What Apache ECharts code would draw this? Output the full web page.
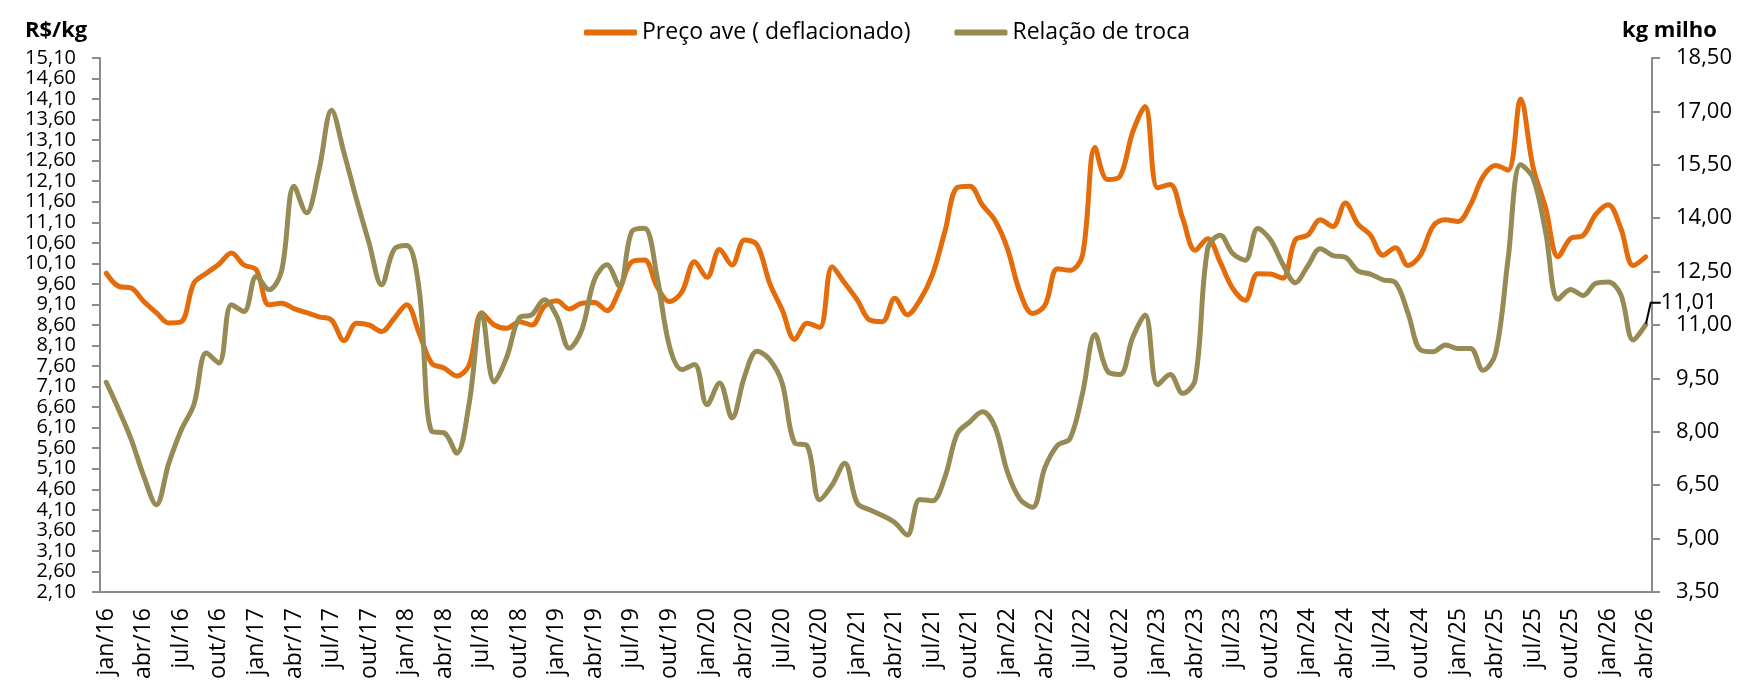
<!DOCTYPE html>
<html>
<head>
<meta charset="utf-8">
<title>Preço ave x Relação de troca</title>
<script src="https://cdn.jsdelivr.net/npm/echarts@6/dist/echarts.min.js"></script>
<style>
  html, body { margin: 0; padding: 0; background: #fff; }
  #chart { width: 1741px; height: 683px; }
</style>
</head>
<body>
<div id="chart"></div>
<script>
var monthNames = ['jan', 'fev', 'mar', 'abr', 'mai', 'jun', 'jul', 'ago', 'set', 'out', 'nov', 'dez'];
var firstYear = 16;
var lastYear = 26;
var lastMonth = 3; // abr/26

// R$/kg (eixo esquerdo)
var precoAve = [
  9.86, 9.54, 9.50, 9.17, 8.90, 8.65, 8.68, 9.62, 9.86, 10.08, 10.35, 10.06,
  9.94, 9.09, 9.13, 9.00, 8.90, 8.80, 8.72, 8.22, 8.64, 8.60, 8.44, 8.76,
  9.09, 8.40, 7.67, 7.55, 7.36, 7.63, 8.89, 8.60, 8.52, 8.68, 8.60, 9.05,
  9.19, 8.99, 9.13, 9.15, 8.95, 9.45, 10.14, 10.18, 9.54, 9.17, 9.41, 10.14,
  9.76, 10.44, 10.06, 10.67, 10.55, 9.62, 8.97, 8.25, 8.64, 8.54, 10.02, 9.62,
  9.21, 8.72, 8.68, 9.25, 8.85, 9.20, 9.82, 10.87, 11.95, 11.98, 11.52, 11.15,
  10.46, 9.40, 8.88, 9.08, 9.97, 9.93, 10.30, 12.92, 12.14, 12.22, 13.29, 13.92,
  11.94, 12.02, 11.20, 10.42, 10.70, 10.13, 9.49, 9.20, 9.85, 9.84, 9.74, 10.67,
  10.79, 11.16, 11.00, 11.57, 11.06, 10.79, 10.30, 10.48, 10.05, 10.30, 11.00, 11.16,
  11.12, 11.53, 12.21, 12.48, 12.37, 14.10, 12.44, 11.45, 10.26, 10.71, 10.78, 11.29,
  11.53, 10.96, 10.05, 10.26
];

// kg milho (eixo direito)
var relacaoTroca = [
  9.39, 8.62, 7.78, 6.75, 5.95, 7.12, 8.06, 8.76, 10.21, 9.93, 11.57, 11.38,
  12.37, 11.99, 12.51, 14.90, 14.15, 15.36, 17.03, 15.83, 14.52, 13.30, 12.13, 13.12,
  13.23, 11.99, 8.01, 7.97, 7.40, 8.81, 11.34, 9.40, 10.10, 11.20, 11.29, 11.71,
  11.24, 10.35, 10.87, 12.27, 12.69, 12.09, 13.63, 13.72, 12.37, 10.40, 9.75, 9.89,
  8.76, 9.37, 8.39, 9.56, 10.26, 10.03, 9.37, 7.69, 7.61, 6.09, 6.51, 7.12,
  6.00, 5.81, 5.65, 5.45, 5.10, 6.10, 6.06, 6.72, 7.95, 8.28, 8.56, 8.14,
  6.87, 6.11, 5.88, 7.00, 7.62, 7.81, 9.08, 10.73, 9.70, 9.61, 10.64, 11.28,
  9.32, 9.61, 9.08, 9.46, 13.15, 13.52, 13.01, 12.82, 13.71, 13.40, 12.71, 12.19,
  12.66, 13.14, 12.95, 12.90, 12.52, 12.43, 12.27, 12.19, 11.34, 10.30, 10.25, 10.44,
  10.34, 10.34, 9.73, 10.20, 12.85, 15.50, 15.13, 13.61, 11.72, 12.00, 11.83, 12.17,
  12.21, 11.86, 10.58, 11.01
];

var categories = [];
for (var y = firstYear; y <= lastYear; y++) {
  for (var m = 0; m < 12; m++) {
    if (y === lastYear && m > lastMonth) break;
    categories.push(monthNames[m] + '/' + y);
  }
}

function fmt(v) {
  return (Math.round(v * 100) / 100).toFixed(2).replace('.', ',');
}

var axisGray = '#8c8c8c';
var olive = '#968b55';
var orange = '#e46c0a';
var font = "'Open Sans', 'Noto Sans', sans-serif";

// só o último ponto tem símbolo, para levar o rótulo com linha guia
var relacaoData = relacaoTroca.map(function (v, i) {
  if (i !== relacaoTroca.length - 1) return v;
  return {
    value: v,
    symbol: 'circle',
    symbolSize: 2,
    itemStyle: { color: olive },
    label: {
      show: true,
      position: 'right',
      distance: 4,
      formatter: function (p) { return fmt(p.value); },
      color: '#000',
      fontFamily: font,
      fontSize: 22
    },
    labelLine: {
      show: true,
      length2: 10,
      lineStyle: { color: '#000', width: 2 }
    }
  };
});

var chart = echarts.init(document.getElementById('chart'));
chart.setOption({
  animation: false,
  backgroundColor: '#fff',
  textStyle: { fontFamily: font },
  title: [
    { text: 'R$/kg', left: 20, top: 15, textStyle: { fontFamily: font, fontSize: 22, fontWeight: 'bold', color: '#000' } },
    { text: 'kg milho', left: 1617, top: 15, textStyle: { fontFamily: font, fontSize: 22, fontWeight: 'bold', color: '#000' } }
  ],
  legend: {
    left: 579,
    top: 16,
    itemWidth: 53,
    itemHeight: 6,
    itemGap: 44,
    icon: 'roundRect',
    textStyle: { fontFamily: font, fontSize: 23, color: '#000' },
    data: ['Preço ave ( deflacionado)', 'Relação de troca']
  },
  grid: { left: 100, right: 89, top: 58, bottom: 91 },
  xAxis: {
    type: 'category',
    data: categories,
    boundaryGap: true,
    axisLine: { lineStyle: { color: axisGray, width: 2 } },
    axisTick: { interval: 2, length: 8, lineStyle: { color: axisGray, width: 2 } },
    axisLabel: { interval: 2, rotate: 90, margin: 16, color: '#000', fontFamily: font, fontSize: 23 },
    splitLine: { show: false }
  },
  yAxis: [
    {
      type: 'value',
      min: 2.1,
      max: 15.1,
      interval: 0.5,
      position: 'left',
      axisLine: { show: true, lineStyle: { color: axisGray, width: 2 } },
      axisTick: { show: true, length: 8, lineStyle: { color: axisGray, width: 2 } },
      axisLabel: {
        margin: 24, color: '#000', fontFamily: font, fontSize: 20, lineHeight: 16,
        showMinLabel: true, showMaxLabel: true, hideOverlap: false, formatter: fmt
      },
      splitLine: { show: false }
    },
    {
      type: 'value',
      min: 3.5,
      max: 18.5,
      interval: 1.5,
      position: 'right',
      axisLine: { show: true, lineStyle: { color: axisGray, width: 2 } },
      axisTick: { show: true, length: 8, lineStyle: { color: axisGray, width: 2 } },
      axisLabel: {
        margin: 24, color: '#000', fontFamily: font, fontSize: 22,
        showMinLabel: true, showMaxLabel: true, formatter: fmt
      },
      splitLine: { show: false }
    }
  ],
  series: [
    {
      name: 'Preço ave ( deflacionado)',
      type: 'line',
      yAxisIndex: 0,
      data: precoAve,
      smooth: 0.35,
      symbol: 'none',
      color: orange,
      lineStyle: { width: 5, color: orange, cap: 'round', join: 'round' }
    },
    {
      name: 'Relação de troca',
      type: 'line',
      yAxisIndex: 1,
      data: relacaoData,
      smooth: 0.35,
      symbol: 'none',
      showSymbol: true,
      color: olive,
      lineStyle: { width: 5, color: olive, cap: 'round', join: 'round' },
      labelLayout: { dx: 10, dy: -22 }
    }
  ]
});
</script>
</body>
</html>
